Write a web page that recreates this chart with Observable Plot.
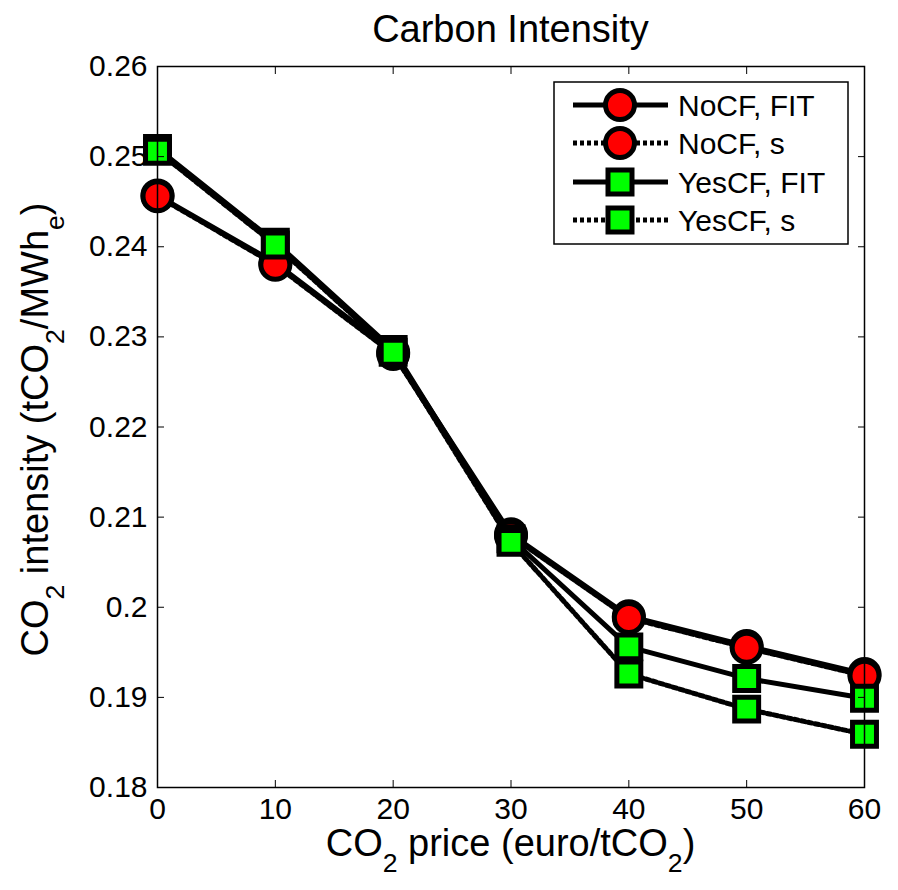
<!DOCTYPE html>
<html>
<head>
<meta charset="utf-8">
<script src="https://cdn.jsdelivr.net/npm/d3@7"></script>
<script src="https://cdn.jsdelivr.net/npm/@observablehq/plot@0.6"></script>
<style>
  html, body { margin: 0; padding: 0; background: #fff; }
  #chart { width: 898px; height: 890px; }
</style>
</head>
<body>
<div id="chart"></div>
<script>
// ---- data ----
const prices = [0, 10, 20, 30, 40, 50, 60];
const noCF_FIT  = [0.2457, 0.2382, 0.2283, 0.2081, 0.1990, 0.1957, 0.1926];
const noCF_s    = [0.2456, 0.2380, 0.2281, 0.2079, 0.1988, 0.1955, 0.1924];
const yesCF_FIT = [0.2509, 0.2405, 0.2286, 0.2076, 0.1956, 0.1921, 0.1899];
const yesCF_s   = [0.2506, 0.2402, 0.2283, 0.2072, 0.1926, 0.1887, 0.1859];

const seriesNames  = ["NoCF, FIT", "NoCF, s", "YesCF, FIT", "YesCF, s"];
const seriesValues = [noCF_FIT, noCF_s, yesCF_FIT, yesCF_s];
const seriesFill   = ["#ff0000", "#ff0000", "#00ff00", "#00ff00"];
const seriesSymbol = ["circle", "circle", "square", "square"];
const seriesDash   = [null, "4,3", null, "4,3"];

const xTicks = [0, 10, 20, 30, 40, 50, 60];
const yTicks = [0.18, 0.19, 0.20, 0.21, 0.22, 0.23, 0.24, 0.25, 0.26];

// ---- build ----
const W = 898, H = 890;
const mL = 157, mR = 34, mT = 66, mB = 103;
const FONT = "'Liberation Sans', Arial, Helvetica, sans-serif";

const marks = [];
seriesNames.forEach((name, i) => {
  const rows = prices.map((p, j) => ({price: p, value: seriesValues[i][j]}));
  marks.push(Plot.line(rows, {
    x: "price", y: "value", stroke: "black", strokeWidth: 5,
    strokeDasharray: seriesDash[i] ?? undefined, strokeLinejoin: "round"
  }));
  marks.push(Plot.dot(rows, {
    x: "price", y: "value", symbol: seriesSymbol[i],
    r: seriesSymbol[i] === "circle" ? 14.5 : 13.5,
    fill: seriesFill[i], stroke: "black", strokeWidth: 5
  }));
});

const chart = Plot.plot({
  width: W, height: H,
  marginLeft: mL, marginRight: mR, marginTop: mT, marginBottom: mB,
  style: {fontFamily: FONT, color: "black", background: "white"},
  x: {domain: [0, 60]},
  y: {domain: [0.18, 0.26]},
  marks: [
    ...marks,
    Plot.frame({stroke: "black", strokeWidth: 1.5}),
    Plot.axisX({anchor: "bottom", ticks: xTicks, tickSize: -7, tickPadding: 17,
      fontSize: 30, label: null, tickFormat: d => String(d)}),
    Plot.axisX({anchor: "top", ticks: xTicks, tickSize: -7, label: null, tickFormat: () => ""}),
    Plot.axisY({anchor: "left", ticks: yTicks, tickSize: -7, tickPadding: 17,
      fontSize: 30, label: null, tickFormat: d => String(+d.toFixed(2))}),
    Plot.axisY({anchor: "right", ticks: yTicks, tickSize: -7, label: null, tickFormat: () => ""})
  ]
});

document.getElementById("chart").appendChild(chart);

// ---- title, axis labels with subscripts, legend ----
const svg = d3.select(chart);
const cx = (mL + (W - mR)) / 2;
const cy = (mT + (H - mB)) / 2;

svg.append("text")
  .attr("x", cx).attr("y", 42)
  .attr("text-anchor", "middle")
  .attr("font-family", FONT).attr("font-size", 38)
  .attr("fill", "black")
  .text("Carbon Intensity");

function subText(sel, parts, size) {
  parts.forEach(([t, sub]) => {
    const ts = sel.append("tspan").text(t);
    if (sub) ts.attr("baseline-shift", -(size * 0.42)).attr("font-size", size * 0.7);
  });
}

const xl = svg.append("text")
  .attr("x", cx).attr("y", 856)
  .attr("text-anchor", "middle")
  .attr("font-family", FONT).attr("font-size", 38).attr("fill", "black");
subText(xl, [["CO"], ["2", true], [" price (euro/tCO"], ["2", true], [")"]], 38);

const yl = svg.append("text")
  .attr("transform", `translate(48,${cy + 3}) rotate(-90)`)
  .attr("text-anchor", "middle")
  .attr("font-family", FONT).attr("font-size", 38).attr("fill", "black");
subText(yl, [["CO"], ["2", true], [" intensity (tCO"], ["2", true], ["/MWh"], ["e", true], [")"]], 38);

// legend
const lg = svg.append("g");
lg.append("rect")
  .attr("x", 554).attr("y", 82).attr("width", 294).attr("height", 162)
  .attr("fill", "white").attr("stroke", "black").attr("stroke-width", 1.5);
const rowY = [105, 143, 182, 220];
seriesNames.forEach((name, i) => {
  const y = rowY[i];
  lg.append("line")
    .attr("x1", 573).attr("x2", 668).attr("y1", y).attr("y2", y)
    .attr("stroke", "black").attr("stroke-width", 5)
    .attr("stroke-dasharray", seriesDash[i] || null);
  if (seriesSymbol[i] === "circle") {
    lg.append("circle").attr("cx", 620).attr("cy", y).attr("r", 14.5)
      .attr("fill", seriesFill[i]).attr("stroke", "black").attr("stroke-width", 5);
  } else {
    lg.append("rect").attr("x", 620 - 12).attr("y", y - 12).attr("width", 24).attr("height", 24)
      .attr("fill", seriesFill[i]).attr("stroke", "black").attr("stroke-width", 5);
  }
  lg.append("text")
    .attr("x", 678).attr("y", y + 11)
    .attr("text-anchor", "start")
    .attr("font-family", FONT).attr("font-size", 30).attr("fill", "black")
    .text(name);
});
</script>
</body>
</html>
